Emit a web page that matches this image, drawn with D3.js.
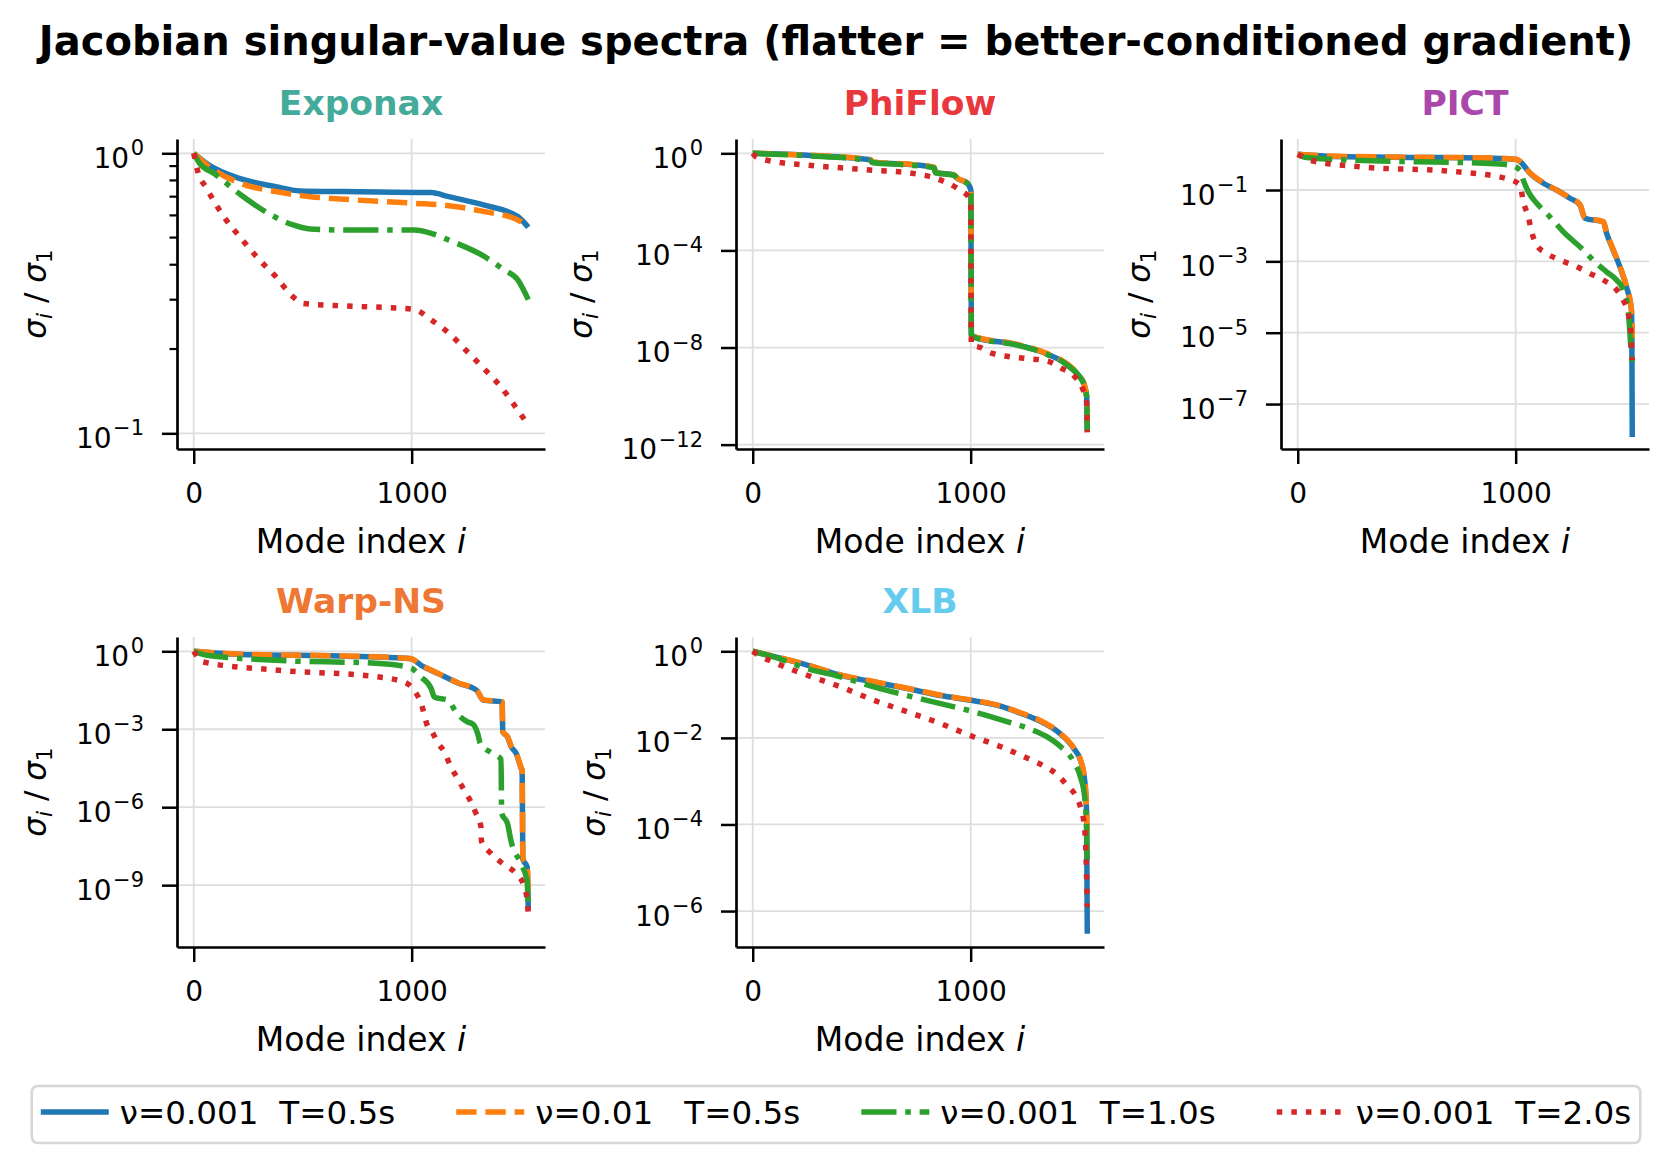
<!DOCTYPE html>
<html>
<head>
<meta charset="utf-8">
<script src="https://cdn.jsdelivr.net/npm/d3@7"></script>
<style>
  body { margin: 0; background: #fff; }
  svg { font-family: "DejaVu Sans", sans-serif; }
</style>
</head>
<body>
<svg id="chart" width="1672" height="1159"></svg>
<script>
// --- data: [mode index i, sigma_i / sigma_1] ---
const modeMax = 1535;
const panelNames = ["Exponax", "PhiFlow", "PICT", "Warp-NS", "XLB"];
const seriesLabels = ["ν=0.001  T=0.5s", "ν=0.01   T=0.5s", "ν=0.001  T=1.0s", "ν=0.001  T=2.0s"];
const xTickValues = [0, 1000];
const yTickExponents = [[0, -1], [0, -4, -8, -12], [-1, -3, -5, -7], [0, -3, -6, -9], [0, -2, -4, -6]];
const yLimitExponents = [[-1.056, 0.051], [-12.18, 0.59], [-8.26, 0.43], [-11.38, 0.55], [-6.83, 0.33]];
const exponaxMinorTicks = [0.2, 0.3, 0.4, 0.5, 0.6, 0.7, 0.8, 0.9];

const exponaxA = [[0, 1.0], [59, 0.92], [217, 0.81], [376, 0.76], [487, 0.734], [694, 0.73], [1090, 0.724], [1170, 0.70], [1329, 0.654], [1487, 0.594], [1535, 0.544]];
const exponaxB = [[0, 1.0], [59, 0.91], [217, 0.78], [376, 0.73], [535, 0.70], [694, 0.685], [1011, 0.663], [1170, 0.65], [1329, 0.62], [1487, 0.578], [1535, 0.55]];
const exponaxC = [[0, 1.0], [27, 0.92], [90, 0.85], [217, 0.71], [313, 0.63], [456, 0.555], [535, 0.537], [694, 0.532], [1011, 0.532], [1090, 0.518], [1170, 0.49], [1329, 0.43], [1424, 0.383], [1487, 0.353], [1535, 0.30]];
const exponaxD = [[0, 1.0], [19, 0.86], [59, 0.75], [138, 0.594], [217, 0.497], [297, 0.42], [376, 0.363], [456, 0.307], [503, 0.291], [694, 0.285], [932, 0.28], [1011, 0.277], [1090, 0.254], [1170, 0.228], [1249, 0.198], [1329, 0.171], [1408, 0.147], [1487, 0.121], [1535, 0.107]];

const phiflowA = [[0, 1.0], [250, 0.83], [541, 0.54], [548, 0.43], [709, 0.355], [832, 0.263], [839, 0.158], [923, 0.129], [939, 0.093], [985, 0.059], [1001, 0.031], [1003, 3.5e-8], [1015, 2.8e-8], [1045, 2.3e-8], [1198, 1.4e-8], [1351, 5.4e-9], [1443, 2.0e-9], [1497, 6.8e-10], [1520, 3.1e-10], [1532, 1.0e-10], [1535, 3.7e-12]];
const phiflowB = [[0, 1.0], [250, 0.84], [541, 0.55], [548, 0.44], [709, 0.36], [832, 0.27], [839, 0.16], [923, 0.13], [939, 0.095], [985, 0.06], [1001, 0.032], [1003, 3.6e-8], [1015, 2.9e-8], [1045, 2.4e-8], [1198, 1.45e-8], [1351, 5.6e-9], [1443, 2.1e-9], [1497, 7.0e-10], [1520, 3.2e-10], [1532, 1.0e-10], [1535, 3.7e-12]];
const phiflowC = [[0, 1.0], [250, 0.8], [541, 0.5], [548, 0.42], [709, 0.33], [832, 0.25], [839, 0.16], [923, 0.125], [939, 0.09], [985, 0.057], [1001, 0.03], [1003, 3.4e-8], [1015, 2.7e-8], [1045, 2.2e-8], [1198, 1.35e-8], [1351, 5.2e-9], [1443, 1.9e-9], [1497, 6.6e-10], [1520, 3.0e-10], [1532, 1.0e-10], [1535, 3.7e-12]];
const phiflowD = [[0, 1.0], [15, 0.72], [96, 0.46], [250, 0.33], [556, 0.2], [709, 0.16], [862, 0.079], [939, 0.036], [1000, 0.012], [1003, 1.3e-8], [1045, 1.0e-8], [1092, 6.0e-9], [1245, 3.6e-9], [1351, 2.8e-9], [1413, 1.45e-9], [1474, 6.8e-10], [1512, 2.2e-10], [1532, 5.5e-11], [1535, 3.2e-12]];

const pictA = [[0, 1.0], [133, 0.89], [438, 0.83], [896, 0.78], [1003, 0.72], [1020, 0.63], [1066, 0.295], [1127, 0.155], [1188, 0.1], [1249, 0.059], [1295, 0.038], [1318, 0.0162], [1402, 0.0129], [1417, 0.0062], [1447, 0.0021], [1478, 7.1e-4], [1508, 1.95e-4], [1531, 4.4e-5], [1533, 1.0e-5], [1535, 1.2e-8]];
const pictB = [[0, 1.0], [133, 0.9], [438, 0.84], [896, 0.79], [1003, 0.73], [1020, 0.64], [1066, 0.3], [1127, 0.16], [1188, 0.1], [1249, 0.06], [1295, 0.039], [1318, 0.0165], [1402, 0.013], [1417, 0.0064], [1447, 0.0022], [1478, 7.3e-4], [1508, 2.0e-4], [1531, 4.5e-5], [1535, 7.0e-6]];
const pictC = [[0, 1.0], [40, 0.81], [241, 0.69], [852, 0.56], [973, 0.5], [1020, 0.36], [1035, 0.19], [1058, 0.089], [1096, 0.043], [1157, 0.0178], [1218, 0.0068], [1310, 0.0021], [1371, 8.7e-4], [1417, 5.1e-4], [1463, 3.0e-4], [1493, 1.6e-4], [1516, 4.4e-5], [1531, 2.5e-6], [1535, 1.4e-6]];
const pictD = [[0, 1.0], [72, 0.65], [285, 0.45], [743, 0.32], [957, 0.21], [1020, 0.138], [1035, 0.047], [1058, 0.0178], [1073, 0.0068], [1096, 0.0029], [1142, 0.00166], [1203, 0.0011], [1279, 7.1e-4], [1340, 4.6e-4], [1402, 3.0e-4], [1463, 1.6e-4], [1493, 8.3e-5], [1516, 3.5e-5], [1528, 1.2e-5], [1532, 4.0e-6], [1535, 1.7e-6]];

const warpA = [[0, 1.0], [217, 0.76], [694, 0.65], [995, 0.52], [1043, 0.29], [1122, 0.138], [1217, 0.058], [1297, 0.032], [1329, 0.0132], [1415, 0.0112], [1418, 7.9e-4], [1440, 5.0e-4], [1456, 2.2e-4], [1480, 1.15e-4], [1502, 3.2e-5], [1507, 2.5e-5], [1510, 1.0e-8], [1530, 5.0e-9], [1535, 1.1e-10]];
const warpB = [[0, 1.0], [217, 0.77], [694, 0.66], [995, 0.53], [1043, 0.3], [1122, 0.14], [1217, 0.059], [1297, 0.033], [1329, 0.0135], [1415, 0.0115], [1418, 8.1e-4], [1440, 5.1e-4], [1456, 2.3e-4], [1480, 1.2e-4], [1502, 3.3e-5], [1507, 2.6e-5], [1510, 1.1e-8], [1530, 5.2e-9], [1535, 5.0e-10]];
const warpC = [[0, 1.0], [59, 0.71], [376, 0.45], [852, 0.34], [995, 0.23], [1043, 0.102], [1090, 0.036], [1104, 0.0174], [1170, 0.0126], [1200, 0.005], [1257, 0.0019], [1281, 0.00158], [1303, 6.8e-4], [1315, 2.8e-4], [1364, 1.26e-4], [1410, 7.1e-5], [1413, 5.8e-7], [1440, 2.3e-7], [1455, 5.4e-8], [1501, 6.8e-9], [1529, 1.55e-9], [1535, 1.1e-10]];
const warpD = [[0, 1.0], [43, 0.39], [376, 0.19], [852, 0.102], [979, 0.058], [1011, 0.032], [1043, 0.01], [1075, 1.23e-3], [1089, 9.1e-4], [1122, 2.8e-4], [1150, 1.35e-4], [1180, 3.5e-5], [1211, 1.26e-5], [1241, 4.5e-6], [1272, 1.6e-6], [1295, 5.8e-7], [1318, 1.74e-7], [1320, 5.0e-8], [1364, 1.66e-8], [1417, 6.8e-9], [1478, 2.8e-9], [1517, 8.7e-10], [1532, 1.86e-10], [1535, 4.5e-11]];

const xlbA = [[0, 1.0], [96, 0.76], [250, 0.48], [403, 0.28], [556, 0.195], [709, 0.138], [862, 0.095], [1015, 0.072], [1137, 0.054], [1229, 0.037], [1321, 0.024], [1405, 0.0132], [1474, 0.0056], [1504, 0.003], [1523, 0.00105], [1532, 1.8e-4], [1535, 3.0e-7]];
const xlbB = [[0, 1.0], [96, 0.77], [250, 0.49], [403, 0.285], [556, 0.2], [709, 0.14], [862, 0.097], [1015, 0.073], [1137, 0.055], [1229, 0.038], [1321, 0.025], [1405, 0.0135], [1474, 0.0058], [1504, 0.0031], [1523, 0.0011], [1532, 1.9e-4], [1535, 4.3e-5]];
const xlbC = [[0, 1.0], [96, 0.74], [250, 0.4], [403, 0.257], [556, 0.151], [709, 0.095], [862, 0.062], [1015, 0.04], [1152, 0.025], [1275, 0.0158], [1351, 0.0105], [1412, 0.0063], [1474, 0.00275], [1504, 0.00123], [1523, 4.3e-4], [1532, 7.2e-5], [1535, 1.05e-5]];
const xlbD = [[0, 1.0], [20, 0.85], [96, 0.56], [250, 0.28], [403, 0.151], [556, 0.074], [709, 0.04], [862, 0.0214], [1015, 0.0105], [1137, 0.0063], [1250, 0.00355], [1336, 0.00224], [1398, 0.00141], [1443, 7.9e-4], [1481, 4.7e-4], [1504, 2.5e-4], [1520, 1.05e-4], [1528, 3.0e-5], [1535, 1.23e-6]];

const panelSeries = [
  [exponaxA, exponaxB, exponaxC, exponaxD],
  [phiflowA, phiflowB, phiflowC, phiflowD],
  [pictA, pictB, pictC, pictD],
  [warpA, warpB, warpC, warpD],
  [xlbA, xlbB, xlbC, xlbD],
];

// --- styles / layout ---
const seriesColors = ["#1f77b4", "#ff7f0e", "#2ca02c", "#d62728"];
const lw = 5.5;
const seriesDashes = [null, `${3.7 * lw},${1.6 * lw}`, `${6.4 * lw},${1.6 * lw},${lw},${1.6 * lw}`, `${lw},${1.65 * lw}`];
const titleColors = ["#44aa99", "#e8383d", "#aa47ab", "#ee7733", "#66ccee"];
const panelPos = [
  { left: 177, top: 139 }, { left: 736, top: 139 }, { left: 1281, top: 139 },
  { left: 177, top: 637 }, { left: 736, top: 637 },
];
const W = 368, H = 310;
const tickFont = 28, labelFont = 33, legendFont = 32.6;

const svg = d3.select("#chart");

svg.append("text")
  .attr("x", 836).attr("y", 55)
  .attr("text-anchor", "middle")
  .attr("font-size", 40).attr("font-weight", "bold")
  .text("Jacobian singular-value spectra (flatter = better-conditioned gradient)");

panelNames.forEach((name, i) => drawPanel(i));

function drawPanel(i) {
  const p = panelPos[i];
  const g = svg.append("g").attr("transform", `translate(${p.left},${p.top})`);

  const x = d3.scaleLinear().domain([-0.05 * modeMax, 1.05 * modeMax]).range([0, W]);
  const y = d3.scaleLog()
    .domain([10 ** yLimitExponents[i][0], 10 ** yLimitExponents[i][1]])
    .range([H, 0]);
  const yTicks = yTickExponents[i].map((e) => 10 ** e);

  // grid
  g.selectAll("line.hgrid").data(yTicks).join("line")
    .attr("class", "hgrid")
    .attr("x1", 0).attr("x2", W)
    .attr("y1", (d) => y(d)).attr("y2", (d) => y(d))
    .attr("stroke", "#dedede").attr("stroke-width", 1.8);
  g.selectAll("line.vgrid").data(xTickValues).join("line")
    .attr("class", "vgrid")
    .attr("x1", (d) => x(d)).attr("x2", (d) => x(d))
    .attr("y1", 0).attr("y2", H)
    .attr("stroke", "#dedede").attr("stroke-width", 1.8);

  // spectra
  const line = d3.line().x((d) => x(d[0])).y((d) => y(d[1])).curve(d3.curveMonotoneX);
  panelSeries[i].forEach((s, k) => {
    g.append("path")
      .attr("d", line(s))
      .attr("fill", "none")
      .attr("stroke", seriesColors[k])
      .attr("stroke-width", lw)
      .attr("stroke-linejoin", "round")
      .attr("stroke-dasharray", seriesDashes[k]);
  });

  // y axis
  const yAxisG = g.append("g")
    .call(d3.axisLeft(y).tickValues(yTicks).tickSize(15).tickSizeOuter(0).tickPadding(18).tickFormat(() => ""))
    .attr("font-family", "DejaVu Sans").attr("font-size", tickFont);
  yAxisG.select(".domain").attr("stroke-width", 2.7);
  yAxisG.selectAll(".tick line").attr("stroke-width", 2.5);
  yAxisG.selectAll(".tick text").each(function (d) {
    const t = d3.select(this).attr("dy", "0.5em");
    const e = Math.round(Math.log10(d));
    t.append("tspan").text("10");
    t.append("tspan")
      .attr("dx", 1.5).attr("dy", -12.5).attr("font-size", tickFont * 0.75)
      .text(e < 0 ? "\u2212" + -e : String(e));
  });

  if (i === 0) {
    g.selectAll("line.minor").data(exponaxMinorTicks).join("line")
      .attr("class", "minor")
      .attr("x1", -7.5).attr("x2", 0)
      .attr("y1", (d) => y(d)).attr("y2", (d) => y(d))
      .attr("stroke", "#000").attr("stroke-width", 2.2);
  }

  // x axis
  const xAxisG = g.append("g")
    .attr("transform", `translate(0,${H})`)
    .call(d3.axisBottom(x).tickValues(xTickValues).tickSize(15).tickSizeOuter(0).tickPadding(19).tickFormat(d3.format("d")))
    .attr("font-family", "DejaVu Sans").attr("font-size", tickFont);
  xAxisG.select(".domain").attr("stroke-width", 2.7);
  xAxisG.selectAll(".tick line").attr("stroke-width", 2.5);

  // axis labels
  const xl = g.append("text")
    .attr("x", W / 2).attr("y", H + 104)
    .attr("text-anchor", "middle").attr("font-size", labelFont)
    .attr("xml:space", "preserve").style("white-space", "pre");
  xl.append("tspan").text("Mode index ");
  xl.append("tspan").attr("font-style", "italic").text("i");

  const minX = d3.min(yAxisG.selectAll(".tick text").nodes(), (n) => n.getBBox().x);
  const baseX = minX - 29.5;
  const yl = g.append("text")
    .attr("transform", `translate(${baseX},${H / 2}) rotate(-90)`)
    .attr("text-anchor", "middle").attr("font-size", 31)
    .attr("xml:space", "preserve").style("white-space", "pre");
  yl.append("tspan").attr("font-style", "italic").text("σ");
  yl.append("tspan").attr("font-style", "italic").attr("font-size", 31 * 0.7).attr("dy", 6).text("i");
  yl.append("tspan").attr("dy", -6).text(" / ");
  yl.append("tspan").attr("font-style", "italic").text("σ");
  yl.append("tspan").attr("font-size", 31 * 0.7).attr("dy", 6).text("1");

  // panel title
  g.append("text")
    .attr("x", W / 2).attr("y", -24)
    .attr("text-anchor", "middle")
    .attr("font-size", 34.5).attr("font-weight", "bold")
    .attr("fill", titleColors[i])
    .text(panelNames[i]);
}

// --- legend ---
const legend = svg.append("g");
const handleLen = 68, handlePad = 11, colSpace = 61, framePad = 9;
const legendY = 1112;
const frame = legend.append("rect");
const texts = seriesLabels.map((lab) =>
  legend.append("text")
    .attr("y", legendY + 11.5)
    .attr("font-size", legendFont)
    .attr("xml:space", "preserve").style("white-space", "pre")
    .text(lab)
);
const widths = texts.map((t) => t.node().getComputedTextLength());
const total = 2 * framePad + d3.sum(widths) + seriesLabels.length * (handleLen + handlePad) + (seriesLabels.length - 1) * colSpace;
let cx = 836 - total / 2 + framePad;
frame.attr("x", 836 - total / 2).attr("y", 1086)
  .attr("width", total).attr("height", 57)
  .attr("rx", 6).attr("fill", "#fff")
  .attr("stroke", "#d6d6d6").attr("stroke-width", 2.5);
seriesLabels.forEach((lab, k) => {
  legend.append("line")
    .attr("x1", cx).attr("x2", cx + handleLen)
    .attr("y1", legendY).attr("y2", legendY)
    .attr("stroke", seriesColors[k]).attr("stroke-width", lw)
    .attr("stroke-dasharray", seriesDashes[k]);
  texts[k].attr("x", cx + handleLen + handlePad);
  cx += handleLen + handlePad + widths[k] + colSpace;
});
</script>
</body>
</html>
